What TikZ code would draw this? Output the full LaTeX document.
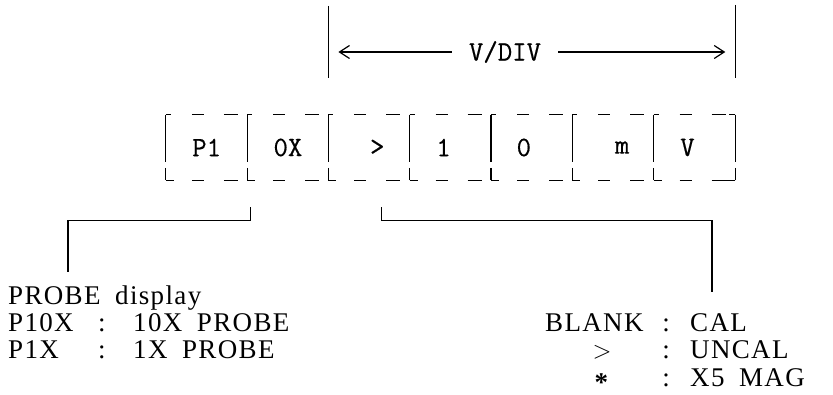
\documentclass[tikz,border=0pt]{standalone}
\usepackage{fontspec}
\setmainfont[LetterSpace=5,WordSpace=1.8]{Liberation Serif}
\newfontfamily\typefont[FakeBold=0.5]{Latin Modern Mono}
\usetikzlibrary{arrows.meta}

\tikzset{
  cell/.style={minimum width=81.3pt, minimum height=65pt, inner sep=0pt},
  celltext/.style={font=\typefont\fontsize{28}{30}\selectfont, inner sep=0pt},
  edgetop/.style={line width=1.2pt, dash pattern=on 5pt off 21pt on 12pt off 20pt on 14pt off 20pt},
  edgebot/.style={line width=1.2pt, dash pattern=on 8pt off 18pt on 12pt off 20pt on 14pt off 20pt},
  edgeside/.style={line width=1.2pt, dash pattern=on 47pt off 6pt on 12pt},
  dimline/.style={line width=1.2pt, -{Straight Barb[length=10pt,width=13pt]}},
  link/.style={line width=1.2pt},
  lbl/.style={anchor=base west, inner sep=0pt, font=\fontsize{27}{29}\selectfont},
  sep/.style={anchor=base, inner sep=0pt, font=\fontsize{27}{29}\selectfont}
}

\begin{document}
\begin{tikzpicture}[x=1pt,y=-1pt]
\useasboundingbox (0,0) rectangle (833,395);

% ---------- display cells ----------
\foreach \t/\dx [count=\i] in {P1/0,0X/0,>/8,1/-7,0/-8,m/9,V/-7}{
    \node[cell] (c\i) at ({166+81.3*(\i-0.5)},147.5) {};
    \node[celltext] (t\i) at ([xshift=\dx pt]c\i) {\t};
    \draw[edgetop] (c\i.north west) -- (c\i.north east);
    \draw[edgebot] (c\i.south west) -- (c\i.south east);
    \draw[edgeside] (c\i.north west) -- (c\i.south west);
}
\draw[edgeside] (c7.north east) -- (c7.south east);
\draw[line width=1.2pt] (c7.north east) -- ++(-6,0);
\draw[line width=1.2pt] (c7.south east) -- ++(-10,0);

% ---------- V/DIV scale ----------
\draw[line width=1.2pt] (c3.north west |- 0,6) -- (c3.north west |- 0,78);
\draw[line width=1.2pt] (c7.north east |- 0,5) -- (c7.north east |- 0,78);
\node[celltext, inner xsep=17pt] (vdiv) at (505,52) {V/DIV};
\draw[dimline, shorten >=10pt] (vdiv.west) -- (c3.north west |- vdiv.west);
\draw[dimline, shorten >=10pt] (vdiv.east) -- (c7.north east |- vdiv.east);

% ---------- connectors ----------
\coordinate (pend) at (68,272);
\coordinate (bend) at (712,292);
\draw[link] ([xshift=3pt,yshift=-27pt]c2.south west) -- ++(0,13) -| (pend);
\draw[link] ([xshift=-29pt,yshift=-27pt]c3.south east) -- ++(0,13) -| (bend);

% ---------- PROBE legend ----------
\node[lbl] (probe) at (8,305) {PROBE display};
\node[lbl] (p10) at (8,332) {P10X};
\node[sep] (p10c) at (102,332) {:};
\node[lbl] (p10v) at (133,332) {10X PROBE};
\node[lbl] (p1) at (8,359) {P1X};
\node[sep] (p1c) at (102,359) {:};
\node[lbl] (p1v) at (133,359) {1X PROBE};

% ---------- CAL legend ----------
\node[lbl] (blank) at (545,332) {BLANK};
\node[sep] (blankc) at (666,332) {:};
\node[lbl] (cal) at (690,332) {CAL};
\node[sep] (gt) at (602,359) {$>$};
\node[sep] (gtc) at (666,359) {:};
\node[lbl] (uncal) at (690,359) {UNCAL};
\node[inner sep=0pt, font=\fontsize{27}{29}\selectfont] (ast) at (602,383) {\textbf{*}};
\node[sep] (astc) at (666,386) {:};
\node[lbl] (mag) at (690,386) {X5 MAG};

\end{tikzpicture}
\end{document}
